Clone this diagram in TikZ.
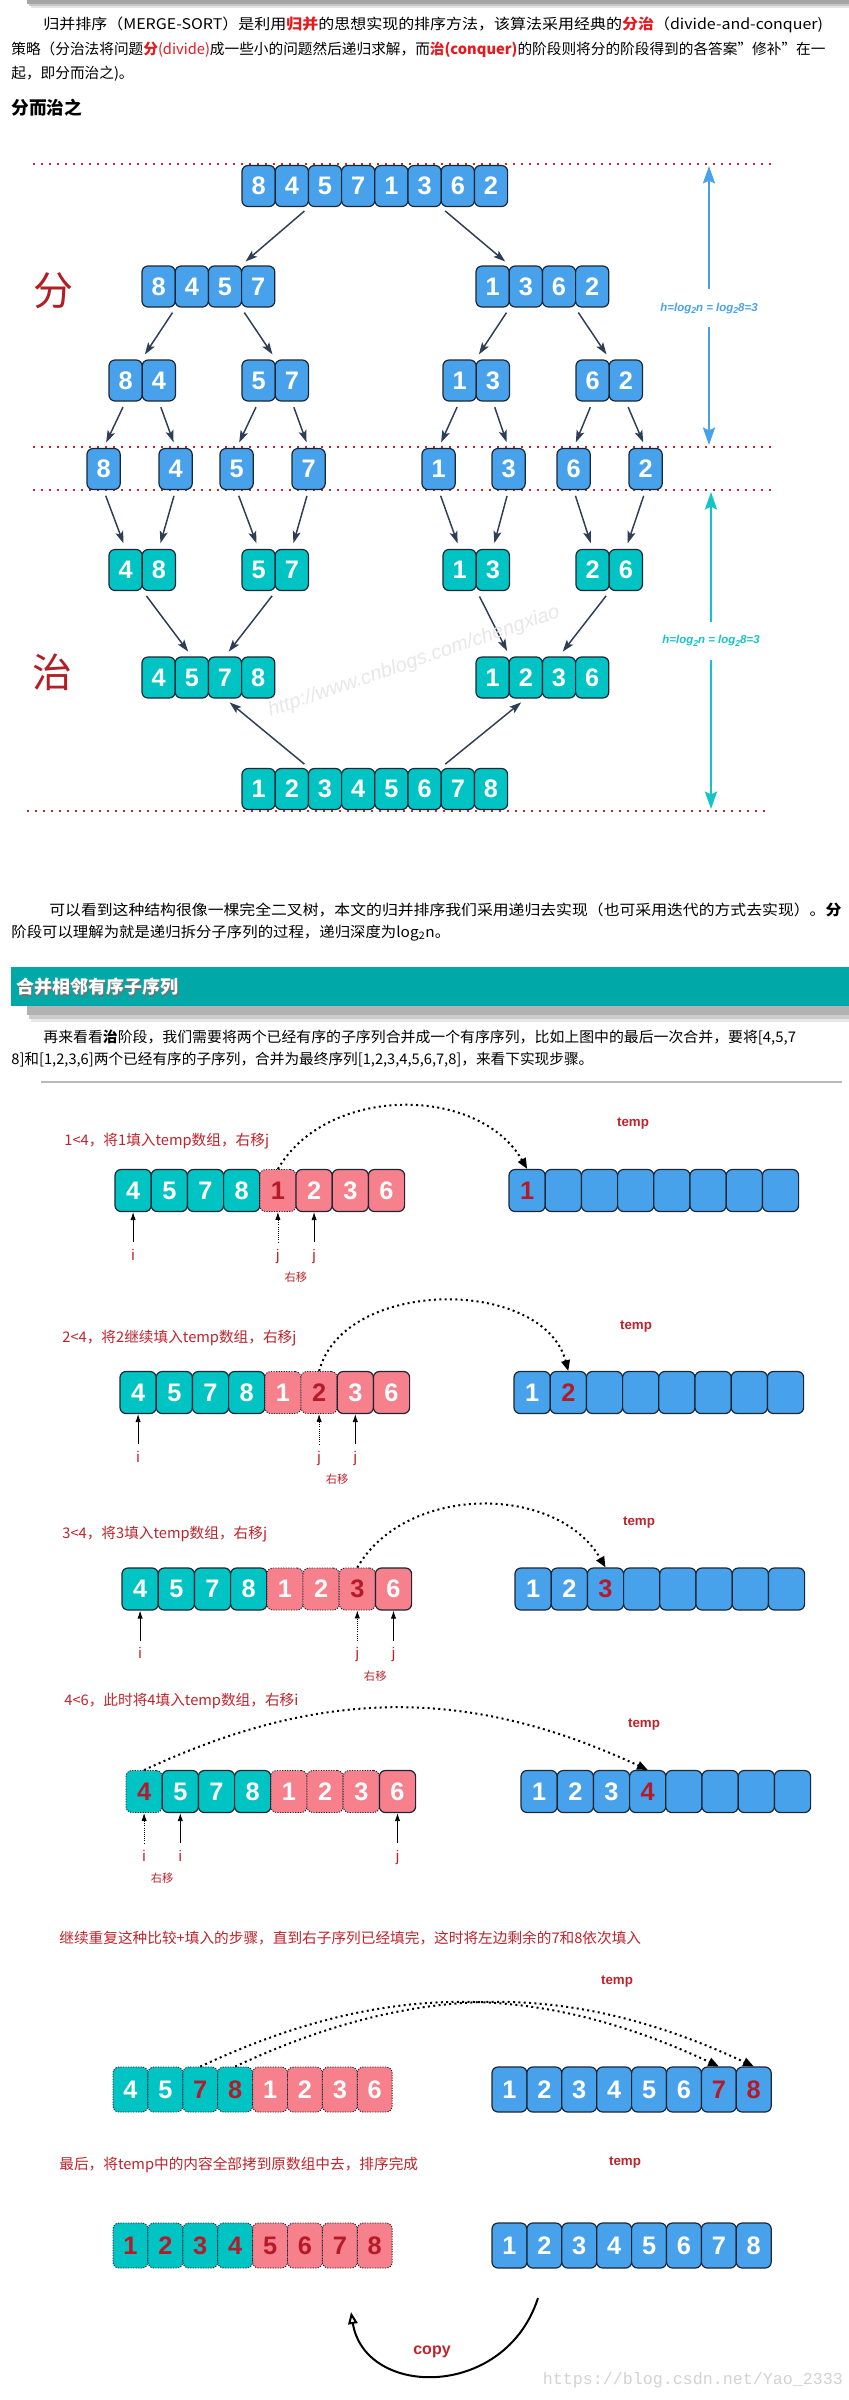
\documentclass[tikz,border=0pt]{standalone}
\usepackage{graphicx}
\usepackage{fontspec}
\setmainfont{Noto Sans CJK SC}
\newfontfamily\digfont{Liberation Sans}
\newfontfamily\monofont{Liberation Mono}
\usetikzlibrary{arrows.meta}

\definecolor{boxblue}{RGB}{72,162,235}
\definecolor{boxteal}{RGB}{0,196,196}
\definecolor{boxpink}{RGB}{246,128,140}
\definecolor{boxedge}{RGB}{28,38,52}
\definecolor{digred}{RGB}{180,26,40}
\definecolor{capred}{RGB}{190,36,44}
\definecolor{hired}{RGB}{230,25,30}
\definecolor{dotred}{RGB}{196,40,48}
\definecolor{arrslate}{RGB}{46,62,86}
\definecolor{hblue}{RGB}{72,162,235}
\definecolor{hcyan}{RGB}{22,196,200}
\definecolor{bandteal}{RGB}{0,168,168}
\definecolor{bigred}{RGB}{178,30,36}

\newcommand{\lsub}[1]{\raisebox{-2pt}{\fontsize{6.5}{6.5}\selectfont #1}}
\newcommand{\treerow}[5]{\foreach \d [count=\k] in {#5} {\node[tbox,#4] (#1-\k) at ({#2+33.2*\k-16.6},#3) {\d};}}
\newcommand{\mergerow}[6]{\foreach \s/\d [count=\k] in {#6} {\node[tbox,minimum width=#4*0.75pt,minimum height=#5*0.75pt,kind=\s] (#1-\k) at ({#2+#4*\k-#4/2},#3) {\d};}}

\tikzset{every picture/.style={line width=0.55pt}}
\tikzset{
  txt/.style={anchor=west, inner sep=0pt, font=\fontsize{11}{13}\selectfont},
  stepcap/.style={txt, text=capred},
  tbox/.style={draw=boxedge, line width=0.9pt, rounded corners=4.5pt, minimum width=24.9pt, minimum height=30.75pt, inner sep=0pt, text=white, font=\digfont\bfseries\fontsize{19}{19}\selectfont},
  blu/.style={fill=boxblue},
  tea/.style={fill=boxteal},
  kind/.code={\edef\mkind{#1}\expandafter\pgfkeysalso\expandafter{\mkind}},
  mt/.style={fill=boxteal},
  mtd/.style={fill=boxteal, densely dotted, line width=0.7pt},
  mtdr/.style={mtd, text=digred},
  mp/.style={fill=boxpink},
  mpd/.style={fill=boxpink, densely dotted, line width=0.7pt},
  mpdr/.style={mpd, text=digred},
  mb/.style={fill=boxblue},
  mbr/.style={fill=boxblue, text=digred},
  reddot/.style={dotred, line width=1.5pt, dash pattern=on 1.5pt off 4.5pt},
  tarr/.style={arrslate, line width=1.1pt, -{Stealth[length=9pt,width=6pt,inset=2pt]}, shorten <=4.5pt, shorten >=4.5pt},
  harr/.style={line width=1.9pt, {Stealth[length=13pt,width=9pt,inset=2pt]}-{Stealth[length=13pt,width=9pt,inset=2pt]}},
  hlbl/.style={fill=white, inner xsep=1pt, inner ysep=10pt, font=\digfont\bfseries\itshape\fontsize{8.6}{8.6}\selectfont},
  hop/.style={line width=1.5pt, dash pattern=on 1.5pt off 2.5pt, -{Triangle[length=8pt,width=6.5pt]}},
  ptr/.style={line width=0.6pt, -{Latex[length=6pt,width=4pt]}, shorten <=5pt},
  ptrd/.style={ptr, densely dotted},
  plbl/.style={anchor=north, inner sep=0pt, text height=8pt, text depth=2.5pt, text=capred, font=\digfont\fontsize{11.5}{12}\selectfont},
  rlbl/.style={anchor=north, inner sep=0pt, text=capred, font=\fontsize{8.5}{9}\selectfont},
  templbl/.style={inner sep=0pt, text=capred, font=\digfont\bfseries\fontsize{10}{10}\selectfont},
}

\begin{document}
\begin{tikzpicture}[x=0.75pt,y=0.75pt,yscale=-1,xscale=1]
\useasboundingbox (0,0) rectangle (849,2400);
\fill[white] (0,0) rectangle (849,2400);

% shadow of the page header
\fill[gray!70] (27,0) rectangle (849,4);
\fill[gray!45] (29,4) rectangle (849,6);
\fill[gray!20] (31,6) rectangle (849,8);

% introduction
\node[txt] (par1a) at (43,25) {\scalebox{1.09}[1]{归并排序（MERGE-SORT）是利用\textcolor{hired}{\bfseries 归并}的思想实现的排序方法，该算法采用经典的\textcolor{hired}{\bfseries 分治}（divide-and-conquer)}};
\node[txt] (par1b) at (11,50) {策略（分治法将问题\textcolor{hired}{\bfseries 分}\textcolor{hired}{(divide)}成一些小的问题然后递归求解，而\textcolor{hired}{\bfseries 治(conquer)}的阶段则将分的阶段得到的各答案"修补"在一};
\node[txt] (par1c) at (11,74) {起，即分而治之)。};
\node[txt, font=\bfseries\fontsize{13.3}{15}\selectfont] (head1) at (11,108) {分而治之};

% divide and conquer tree
\draw[reddot] (33,164) -- (774,164);
\draw[reddot] (33,447) -- (774,447);
\draw[reddot] (33,490) -- (774,490);
\draw[reddot] (27,811) -- (768,811);

\node[text=bigred, font=\fontsize{30}{30}\selectfont] (fen) at (53,291) {分};
\node[text=bigred, font=\fontsize{30}{30}\selectfont] (zhi) at (52,672) {治};

\treerow{top}{242}{186}{blu}{8,4,5,7,1,3,6,2}
\treerow{ha}{142}{286.5}{blu}{8,4,5,7}
\treerow{hb}{476}{286.5}{blu}{1,3,6,2}
\treerow{qa}{109}{380.5}{blu}{8,4}
\treerow{qb}{242}{380.5}{blu}{5,7}
\treerow{qc}{443}{380.5}{blu}{1,3}
\treerow{qd}{576}{380.5}{blu}{6,2}
\treerow{sa}{87}{469}{blu}{8}
\treerow{sb}{159}{469}{blu}{4}
\treerow{sc}{220}{469}{blu}{5}
\treerow{sd}{292}{469}{blu}{7}
\treerow{se}{422}{469}{blu}{1}
\treerow{sf}{492}{469}{blu}{3}
\treerow{sg}{557}{469}{blu}{6}
\treerow{sh}{629}{469}{blu}{2}
\treerow{pa}{109}{570}{tea}{4,8}
\treerow{pb}{242}{570}{tea}{5,7}
\treerow{pc}{443}{570}{tea}{1,3}
\treerow{pd}{576}{570}{tea}{2,6}
\treerow{ma}{142}{677.5}{tea}{4,5,7,8}
\treerow{mb}{476}{677.5}{tea}{1,2,3,6}
\treerow{bot}{242}{789}{tea}{1,2,3,4,5,6,7,8}

\draw[tarr] (top-2.south east) -- (ha-4.north west);
\draw[tarr] (top-7.south west) -- (hb-1.north east);
\draw[tarr] (ha-1.south east) -- (qa-2.north west);
\draw[tarr] (ha-4.south west) -- (qb-1.north east);
\draw[tarr] (hb-1.south east) -- (qc-2.north west);
\draw[tarr] (hb-4.south west) -- (qd-1.north east);
\draw[tarr] (qa-1.south) -- (sa-1.north);
\draw[tarr] (qa-2.south) -- (sb-1.north);
\draw[tarr] (qb-1.south) -- (sc-1.north);
\draw[tarr] (qb-2.south) -- (sd-1.north);
\draw[tarr] (qc-1.south) -- (se-1.north);
\draw[tarr] (qc-2.south) -- (sf-1.north);
\draw[tarr] (qd-1.south) -- (sg-1.north);
\draw[tarr] (qd-2.south) -- (sh-1.north);
\draw[tarr] (sa-1.south) -- (pa-1.north);
\draw[tarr] (sb-1.south) -- (pa-2.north);
\draw[tarr] (sc-1.south) -- (pb-1.north);
\draw[tarr] (sd-1.south) -- (pb-2.north);
\draw[tarr] (se-1.south) -- (pc-1.north);
\draw[tarr] (sf-1.south) -- (pc-2.north);
\draw[tarr] (sg-1.south) -- (pd-1.north);
\draw[tarr] (sh-1.south) -- (pd-2.north);
\draw[tarr] (pa-1.south east) -- (ma-2.north);
\draw[tarr] (pb-1.south east) -- (ma-3.north);
\draw[tarr] (pc-1.south east) -- (mb-1.north east);
\draw[tarr] (pd-1.south east) -- (mb-3.north);
\draw[tarr] (bot-2.north east) -- (ma-3.south);
\draw[tarr] (bot-7.north west) -- (mb-2.south);

% tree height
\coordinate (hbT) at (709,166);
\coordinate (hbB) at (709,445);
\coordinate (hcT) at (711,492);
\coordinate (hcB) at (711,809);
\draw[harr, hblue] (hbT) -- node[hlbl, text=hblue, pos=0.51] (hbL) {h=log\lsub{2}n = log\lsub{2}8=3} (hbB);
\draw[harr, hcyan] (hcT) -- node[hlbl, text=hcyan, pos=0.47] (hcL) {h=log\lsub{2}n = log\lsub{2}8=3} (hcB);

\node[text=gray!18, rotate=19, font=\digfont\itshape\fontsize{15}{15}\selectfont] (wm1) at (414,662) {http://www.cnblogs.com/chengxiao};

% second paragraph and section band
\node[txt] (par2a) at (49,910) {\scalebox{1.08}[1]{可以看到这种结构很像一棵完全二叉树，本文的归并排序我们采用递归去实现（也可采用迭代的方式去实现）。\textbf{分}}};
\node[txt] (par2b) at (11,933) {\scalebox{1.05}[1]{阶段可以理解为就是递归拆分子序列的过程，递归深度为log\textsubscript{2}n。}};
\fill[bandteal] (11,967) rectangle (849,1006);
\fill[gray!60] (27,1006) rectangle (849,1015);
\fill[gray!40] (29,1015) rectangle (849,1019);
\fill[gray!18] (31,1019) rectangle (849,1022);
\node[txt, text=black!55, font=\bfseries\fontsize{13.5}{15}\selectfont] (bandsh) at (17.5,988.5) {合并相邻有序子序列};
\node[txt, text=white, font=\bfseries\fontsize{13.5}{15}\selectfont] (band) at (16,987) {合并相邻有序子序列};
\node[txt] (par3a) at (43,1038) {\scalebox{1.015}[1]{再来看看\textbf{治}阶段，我们需要将两个已经有序的子序列合并成一个有序序列，比如上图中的最后一次合并，要将[4,5,7}};
\node[txt] (par3b) at (11,1060) {8]和[1,2,3,6]两个已经有序的子序列，合并为最终序列[1,2,3,4,5,6,7,8]，来看下实现步骤。};
\draw[gray!55, line width=1pt] (41,1082) -- (842,1082);

% step 1
\node[stepcap] (cap1) at (64,1141) {1<4，将1填入temp数组，右移j};
\node[templbl] (tmp1) at (633,1124) {temp};
\mergerow{La}{115}{1190.5}{36.2}{42}{mt/4,mt/5,mt/7,mt/8,mpdr/1,mp/2,mp/3,mp/6}
\mergerow{Ra}{509}{1190.5}{36.2}{42}{mbr/1,mb/{},mb/{},mb/{},mb/{},mb/{},mb/{},mb/{}}
\draw[hop] (La-5.north) to[out=-60,in=-120] (Ra-1.north);
\path (La-1.south) ++(0,37) node[plbl] (pai) {i};
\path (La-5.south) ++(0,37) node[plbl] (paj) {j};
\path (La-6.south) ++(0,37) node[plbl] (pak) {j};
\path (La-5.south) ++(18,60) node[rlbl] (par) {右移};
\draw[ptr] (pai) -- (La-1);
\draw[ptrd] (paj) -- (La-5);
\draw[ptr] (pak) -- (La-6);

% step 2
\node[stepcap] (cap2) at (62,1338) {2<4，将2继续填入temp数组，右移j};
\node[templbl] (tmp2) at (636,1327) {temp};
\mergerow{Lb}{120}{1392.5}{36.2}{42}{mt/4,mt/5,mt/7,mt/8,mpd/1,mpdr/2,mp/3,mp/6}
\mergerow{Rb}{514}{1392.5}{36.2}{42}{mb/1,mbr/2,mb/{},mb/{},mb/{},mb/{},mb/{},mb/{}}
\draw[hop] (Lb-6.north) to[out=-75,in=-105] (Rb-2.north);
\path (Lb-1.south) ++(0,37) node[plbl] (pbi) {i};
\path (Lb-6.south) ++(0,37) node[plbl] (pbj) {j};
\path (Lb-7.south) ++(0,37) node[plbl] (pbk) {j};
\path (Lb-6.south) ++(18,60) node[rlbl] (pbr) {右移};
\draw[ptr] (pbi) -- (Lb-1);
\draw[ptrd] (pbj) -- (Lb-6);
\draw[ptr] (pbk) -- (Lb-7);

% step 3
\node[stepcap] (cap3) at (62,1534) {3<4，将3填入temp数组，右移j};
\node[templbl] (tmp3) at (639,1523) {temp};
\mergerow{Lc}{122}{1589}{36.2}{42}{mt/4,mt/5,mt/7,mt/8,mpd/1,mpd/2,mpdr/3,mp/6}
\mergerow{Rc}{515}{1589}{36.2}{42}{mb/1,mb/2,mbr/3,mb/{},mb/{},mb/{},mb/{},mb/{}}
\draw[hop] (Lc-7.north) to[out=-60,in=-120] (Rc-3.north);
\path (Lc-1.south) ++(0,37) node[plbl] (pci) {i};
\path (Lc-7.south) ++(0,37) node[plbl] (pcj) {j};
\path (Lc-8.south) ++(0,37) node[plbl] (pck) {j};
\path (Lc-7.south) ++(18,60) node[rlbl] (pcr) {右移};
\draw[ptr] (pci) -- (Lc-1);
\draw[ptrd] (pcj) -- (Lc-7);
\draw[ptr] (pck) -- (Lc-8);

% step 4
\node[stepcap] (cap4) at (64,1701) {4<6，此时将4填入temp数组，右移i};
\node[templbl] (tmp4) at (644,1725) {temp};
\mergerow{Ld}{126}{1791.5}{36.2}{42}{mtdr/4,mt/5,mt/7,mt/8,mpd/1,mpd/2,mpd/3,mp/6}
\mergerow{Rd}{521}{1791.5}{36.2}{42}{mb/1,mb/2,mb/3,mbr/4,mb/{},mb/{},mb/{},mb/{}}
\draw[hop] (Ld-1.north) to[out=-25,in=-155] (Rd-4.north);
\path (Ld-1.south) ++(0,37) node[plbl] (pdi) {i};
\path (Ld-2.south) ++(0,37) node[plbl] (pdk) {i};
\path (Ld-8.south) ++(0,37) node[plbl] (pdj) {j};
\path (Ld-1.south) ++(18,60) node[rlbl] (pdr) {右移};
\draw[ptrd] (pdi) -- (Ld-1);
\draw[ptr] (pdk) -- (Ld-2);
\draw[ptr] (pdj) -- (Ld-8);

% step 5
\node[stepcap] (cap5) at (59,1938) {继续重复这种比较+填入的步骤，直到右子序列已经填完，这时将左边剩余的7和8依次填入};
\node[templbl] (tmp5) at (617,1982) {temp};
\mergerow{Le}{113}{2089.5}{34.9}{45}{mtd/4,mtd/5,mtdr/7,mtdr/8,mpd/1,mpd/2,mpd/3,mpd/6}
\mergerow{Re}{492}{2089.5}{34.9}{45}{mb/1,mb/2,mb/3,mb/4,mb/5,mb/6,mbr/7,mbr/8}
\draw[hop] (Le-3.north) to[out=-25,in=-155] (Re-7.north);
\draw[hop] (Le-4.north) to[out=-25,in=-155] (Re-8.north);

% step 6
\node[stepcap] (cap6) at (59,2165) {最后，将temp中的内容全部拷到原数组中去，排序完成};
\node[templbl] (tmp6) at (625,2163) {temp};
\mergerow{Lf}{113}{2245.5}{34.9}{45}{mtdr/1,mtdr/2,mtdr/3,mtdr/4,mpdr/5,mpdr/6,mpdr/7,mpdr/8}
\mergerow{Rf}{492}{2245.5}{34.9}{45}{mb/1,mb/2,mb/3,mb/4,mb/5,mb/6,mb/7,mb/8}
\coordinate (cpS) at (538,2298);
\coordinate (cpE) at (351,2312);
\draw[line width=1.5pt, -{Triangle[open,length=9pt,width=7pt]}] (cpS) .. controls (505,2400) and (365,2398) .. (cpE);
\node[text=capred, font=\digfont\bfseries\fontsize{12}{12}\selectfont] (cpt) at (432,2352) {copy};

\node[anchor=west, text=gray!35, font=\monofont\fontsize{12.5}{13}\selectfont] (wm2) at (538,2380) {https://blog.csdn.net/Yao\_2333};
\end{tikzpicture}
\end{document}
